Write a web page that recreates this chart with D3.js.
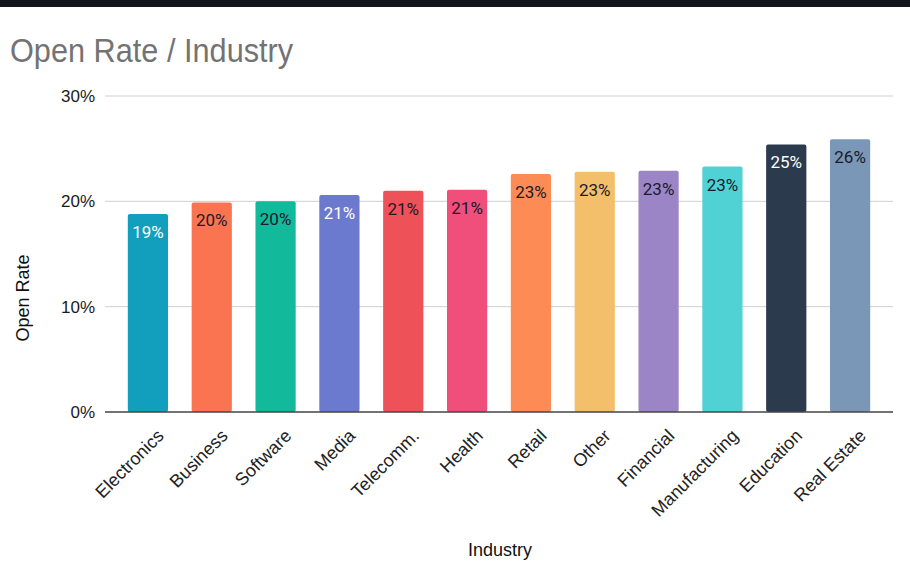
<!DOCTYPE html>
<html lang='en'>
<head>
  <meta charset='UTF-8'>
  <title>Open Rate / Industry</title>
  <script src='https://d3js.org/d3.v7.min.js'></script>
  <style>
    body { margin: 0; background: #fff; }
    #main { width: 910px; height: 584px; }
    text { font-family: 'Liberation Sans', Arial, sans-serif; }
  </style>
</head>
<body>
<div id='main'></div>
<script>
  // data
  const industries = ['Electronics', 'Business', 'Software', 'Media', 'Telecomm.', 'Health',
    'Retail', 'Other', 'Financial', 'Manufacturing', 'Education', 'Real Estate']
  const openRates = [0.188, 0.199, 0.200, 0.206, 0.210, 0.211, 0.226, 0.228, 0.229, 0.233, 0.254, 0.259]
  const barColors = ['#129fbd', '#fb7452', '#13b99b', '#6b79cf', '#ef5158', '#f04f7b',
    '#fd8b55', '#f3bf6b', '#9b85c6', '#50d2d4', '#2c3a4e', '#7b97b8']
  const whiteLabel = ['Electronics', 'Media', 'Education']
  const yTicks = [0, 0.1, 0.2, 0.3]

  const width = 910
  const height = 584
  const plot = { left: 116, right: 882, top: 96, bottom: 412 }

  const svg = d3.select('#main').append('svg')
    .attr('width', width)
    .attr('height', height)

  // dark strip at top
  svg.append('rect').attr('x', 0).attr('y', 0).attr('width', width).attr('height', 7).attr('fill', '#13171c')

  // title
  svg.append('text')
    .attr('transform', 'translate(10, 62) scale(0.93, 1)')
    .style('font-size', '33px')
    .style('fill', '#737373')
    .text('Open Rate / Industry')

  const x = d3.scaleBand().domain(industries).range([plot.left, plot.right]).paddingInner(0.37).paddingOuter(0.185)
  const y = d3.scaleLinear().domain([0, 0.3]).range([plot.bottom, plot.top])

  // gridlines
  svg.append('g').selectAll('line')
    .data(yTicks.slice(1))
    .enter().append('line')
    .attr('x1', 105).attr('x2', 893)
    .attr('y1', d => y(d)).attr('y2', d => y(d))
    .attr('stroke', '#cfcfcf').attr('stroke-width', 1)

  // y tick labels
  svg.append('g').selectAll('text')
    .data(yTicks)
    .enter().append('text')
    .attr('x', 95).attr('y', d => y(d))
    .attr('text-anchor', 'end')
    .attr('dy', '0.35em')
    .style('font-size', '17px')
    .style('fill', '#1a1a1a')
    .text(d3.format('.0%'))

  // bars
  svg.append('g').selectAll('rect')
    .data(industries)
    .enter().append('rect')
    .attr('x', d => x(d))
    .attr('y', (d, i) => y(openRates[i]))
    .attr('width', x.bandwidth())
    .attr('height', (d, i) => y(0) - y(openRates[i]))
    .attr('rx', 2)
    .attr('fill', (d, i) => barColors[i])

  // baseline
  svg.append('line')
    .attr('x1', 105).attr('x2', 893)
    .attr('y1', y(0)).attr('y2', y(0))
    .attr('stroke', '#444').attr('stroke-width', 1.5)

  // value labels
  svg.append('g').selectAll('text')
    .data(industries)
    .enter().append('text')
    .attr('x', d => x(d) + x.bandwidth() / 2)
    .attr('y', (d, i) => y(openRates[i]) + 24)
    .attr('text-anchor', 'middle')
    .style('font-family', 'Roboto, sans-serif')
    .style('font-size', '17px')
    .style('fill', d => whiteLabel.includes(d) ? '#ffffff' : '#1a1a2a')
    .text((d, i) => d3.format('.0%')(openRates[i]))

  // x labels
  svg.append('g').selectAll('text')
    .data(industries)
    .enter().append('text')
    .attr('text-anchor', 'end')
    .attr('transform', d => `translate(${x(d) + x.bandwidth() / 2 + 17}, ${y(0) + 25}) rotate(-45)`)
    .style('font-size', '18px')
    .style('fill', '#222')
    .text(d => d)

  // axis titles
  svg.append('text')
    .attr('transform', 'translate(29, 298) rotate(-90)')
    .attr('text-anchor', 'middle')
    .style('font-size', '18px')
    .style('fill', '#111')
    .text('Open Rate')

  svg.append('text')
    .attr('x', 500).attr('y', 556)
    .attr('text-anchor', 'middle')
    .style('font-size', '18px')
    .style('fill', '#111')
    .text('Industry')
</script>
</body>
</html>
